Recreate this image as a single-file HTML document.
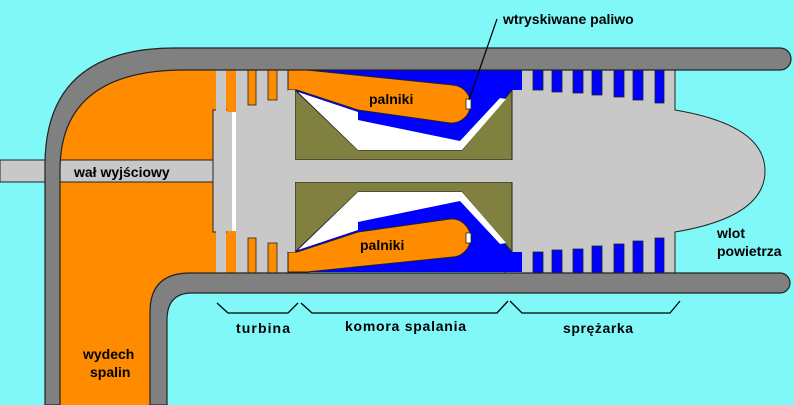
<!DOCTYPE html>
<html><head><meta charset="utf-8"><style>
html,body{margin:0;padding:0;background:#80f8f8;}
svg{display:block}
text{font-family:"Liberation Sans",sans-serif;font-weight:bold;font-size:14px;fill:#000}
</style></head><body>
<svg width="794" height="405" viewBox="0 0 794 405" xmlns="http://www.w3.org/2000/svg">
<rect width="794" height="405" fill="#80f8f8"/>
<path d="M60,170 Q60,70 180,70 L300,70 L300,273 L190,273 Q150,273 150,310 L150,405 L60,405 Z" fill="#ff8c00"/>
<rect x="0" y="160" width="220" height="22" fill="#c8c8c8" stroke="#222" stroke-width="1"/>
<path d="M213,110 L213,232 L230,232 L230,273 L295,273 L295,70 L230,70 L230,110 Z" fill="#c8c8c8" stroke="#222" stroke-width="1"/>
<rect x="216" y="70" width="10" height="45" fill="#c8c8c8"/>
<rect x="216" y="228" width="10" height="45" fill="#c8c8c8"/>
<rect x="227" y="70" width="9" height="42" fill="#ff8c00"/>
<rect x="227" y="231" width="9" height="42" fill="#ff8c00"/>
<rect x="232" y="112" width="4" height="119" fill="#fff"/>
<rect x="248" y="70" width="8" height="35" fill="#ff8c00" stroke="#222" stroke-width="0.8"/>
<rect x="248" y="238" width="8" height="35" fill="#ff8c00" stroke="#222" stroke-width="0.8"/>
<rect x="268" y="70" width="9" height="30" fill="#ff8c00" stroke="#222" stroke-width="0.8"/>
<rect x="268" y="243" width="9" height="30" fill="#ff8c00" stroke="#222" stroke-width="0.8"/>
<path d="M505,70 L675,70 L675,110 Q765,125 765,171 Q765,217 675,232 L675,273 L505,273 Z" fill="#c8c8c8" stroke="#222" stroke-width="1"/>
<g fill="#0000ff" stroke="#222" stroke-width="0.8">
<rect x="533" y="70" width="10" height="20"/><rect x="552" y="70" width="10" height="22"/>
<rect x="573" y="70" width="10" height="23"/><rect x="592" y="70" width="10" height="25"/>
<rect x="614" y="70" width="10" height="27"/><rect x="633" y="70" width="10" height="30"/>
<rect x="655" y="70" width="9" height="33"/>
<rect x="533" y="252" width="10" height="21"/><rect x="552" y="250" width="10" height="23"/>
<rect x="573" y="249" width="10" height="24"/><rect x="592" y="246" width="10" height="27"/>
<rect x="614" y="244" width="10" height="29"/><rect x="633" y="241" width="10" height="32"/>
<rect x="655" y="238" width="9" height="35"/>
</g>
<g>
<rect x="288" y="70" width="234" height="90" fill="#0000ff"/>
<rect x="512" y="90" width="10" height="70" fill="#c8c8c8"/>
<polygon points="295,90 358,150 462,150 512,90 512,160 295,160" fill="#808040" stroke="#222" stroke-width="1"/>
<polygon points="298,92 358,112 358,120 460,141 500,98 506,99 462,150 358,150" fill="#fff"/>
<path d="M288,70 L307,70 L453,85 A19,19 0 0 1 450,123 L358,110 L297,90 L288,90 Z" fill="#ff8c00" stroke="#222" stroke-width="1"/>
<rect x="466" y="99" width="5" height="10" fill="#fff" stroke="#222" stroke-width="0.8"/>
</g>
<g transform="translate(0,342) scale(1,-1)">
<rect x="288" y="70" width="234" height="90" fill="#0000ff"/>
<rect x="512" y="90" width="10" height="70" fill="#c8c8c8"/>
<polygon points="295,90 358,150 462,150 512,90 512,160 295,160" fill="#808040" stroke="#222" stroke-width="1"/>
<polygon points="298,92 358,112 358,120 460,141 500,98 506,99 462,150 358,150" fill="#fff"/>
<path d="M288,70 L307,70 L453,85 A19,19 0 0 1 450,123 L358,110 L297,90 L288,90 Z" fill="#ff8c00" stroke="#222" stroke-width="1"/>
<rect x="466" y="99" width="5" height="10" fill="#fff" stroke="#222" stroke-width="0.8"/>
</g>
<rect x="288" y="90" width="7" height="162" fill="#c8c8c8"/>
<rect x="295" y="160" width="225" height="22" fill="#c8c8c8"/>
<path d="M45,405 L45,165 Q45,48 175,48 L780,48 A11,11 0 0 1 780,70 L180,70 Q60,72 60,170 L60,405 Z" fill="#808080" stroke="#222" stroke-width="1.2"/>
<path d="M780,273 A10,10 0 0 1 780,293 L192,293 Q167,293 167,320 L167,405 L150,405 L150,312 Q150,273 190,273 Z" fill="#808080" stroke="#222" stroke-width="1.2"/>
<line x1="497" y1="19" x2="469" y2="100" stroke="#000" stroke-width="1.2"/>
<g fill="none" stroke="#000" stroke-width="1.3">
<polyline points="217,303 228,313 288,313 298,303"/>
<polyline points="301,303 312,313 497,313 508,301"/>
<polyline points="510,301 522,313 670,313 680,301"/>
</g>
<text x="503" y="24">wtryskiwane paliwo</text>
<text x="369" y="104">palniki</text>
<text x="360" y="250">palniki</text>
<text x="74" y="177">wał wyjściowy</text>
<text x="717" y="238">wlot</text>
<text x="717" y="256">powietrza</text>
<text x="83" y="359">wydech</text>
<text x="90" y="377">spalin</text>
<text x="236" y="333" textLength="54">turbina</text>
<text x="345" y="331" textLength="121">komora spalania</text>
<text x="563" y="333" textLength="70">sprężarka</text>
</svg>
</body></html>
